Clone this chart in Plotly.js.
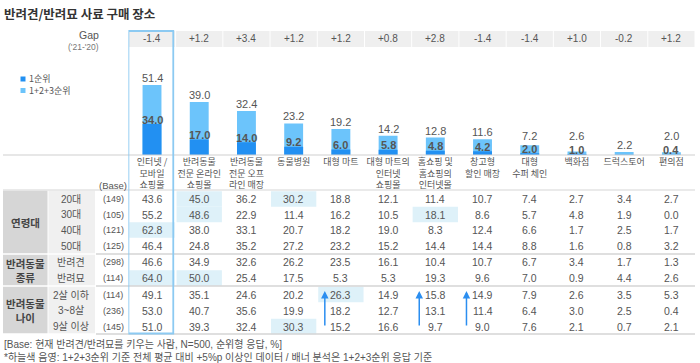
<!DOCTYPE html>
<html><head><meta charset="utf-8">
<script src="https://cdn.plot.ly/plotly-3.0.1.min.js"></script>
<style>html,body{margin:0;padding:0;background:#fff}#chart{width:700px;height:363px}</style>
</head><body><div id="chart"></div>
<script>
// ---- data ----
const categories = ["인터넷 /<br>모바일<br>쇼핑몰","반려동물<br>전문 온라인<br>쇼핑몰","반려동물<br>전문 오프<br>라인 매장","동물병원","대형 마트","대형 마트의<br>인터넷<br>쇼핑몰","홈쇼핑 및<br>홈쇼핑의<br>인터넷몰","창고형<br>할인 매장","대형<br>수퍼 체인","백화점","드럭스토어","편의점"];
const total123 = [51.4, 39.0, 32.4, 23.2, 19.2, 14.2, 12.8, 11.6, 7.2, 2.6, 2.2, 2.0];
const first1 = [34.0, 17.0, 14.0, 9.2, 6.0, 5.8, 4.8, 4.2, 2.0, 1.0, 0.4, 0.4];
const first1Labels = ["34.0","17.0","14.0","9.2","6.0","5.8","4.8","4.2","2.0","1.0","","0.4"];
const gapValues = ["-1.4","+1.2","+3.4","+1.2","+1.2","+0.8","+2.8","-1.4","-1.4","+1.0","-0.2","+1.2"];
const legendNames = ["1순위","1+2+3순위"];
const groupNames = ["연령대","반려동물<br>종류","반려동물<br>나이"];
const rowLabels = ["20대","30대","40대","50대","반려견","반려묘","2살 이하","3~8살","9살 이상"];
const rowBases = ["(149)","(105)","(121)","(125)","(298)","(114)","(114)","(236)","(145)"];
const rowAge20 = [43.6, 45.0, 36.2, 30.2, 18.8, 12.1, 11.4, 10.7, 7.4, 2.7, 3.4, 2.7];
const rowAge30 = [55.2, 48.6, 22.9, 11.4, 16.2, 10.5, 18.1, 8.6, 5.7, 4.8, 1.9, 0.0];
const rowAge40 = [62.8, 38.0, 33.1, 20.7, 18.2, 19.0, 8.3, 12.4, 6.6, 1.7, 2.5, 1.7];
const rowAge50 = [46.4, 24.8, 35.2, 27.2, 23.2, 15.2, 14.4, 14.4, 8.8, 1.6, 0.8, 3.2];
const rowDog = [46.6, 34.9, 32.6, 26.2, 23.5, 16.1, 10.4, 10.7, 6.7, 3.4, 1.7, 1.3];
const rowCat = [64.0, 50.0, 25.4, 17.5, 5.3, 5.3, 19.3, 9.6, 7.0, 0.9, 4.4, 2.6];
const rowPet2 = [49.1, 35.1, 24.6, 20.2, 26.3, 14.9, 15.8, 14.9, 7.9, 2.6, 3.5, 5.3];
const rowPet3to8 = [53.0, 40.7, 35.6, 19.9, 18.2, 12.7, 13.1, 11.4, 6.4, 3.0, 2.5, 0.4];
const rowPet9 = [51.0, 39.3, 32.4, 30.3, 15.2, 16.6, 9.7, 9.0, 7.6, 2.1, 0.7, 2.1];
const highlights = [[0,1],[0,3],[1,1],[1,6],[2,0],[5,0],[5,1],[6,4],[8,3]]; // [row, col]
const arrowCols = [4, 6, 7];
const footnote1 = "[Base: 현재 반려견/반려묘를 키우는 사람, N=500, 순위형 응답, %]";
const footnote2 = "*하늘색 음영: 1+2+3순위 기준 전체 평균 대비 +5%p 이상인 데이터 / 배너 분석은 1+2+3순위 응답 기준";

// ---- layout helpers ----
const W = 700, H = 363;
const Y = px => 1 - px / H;
const X = px => px / W;
const FONT = "Liberation Sans, Noto Sans CJK KR, sans-serif";
const KFONT = "Noto Sans CJK KR, Liberation Sans, sans-serif";
const TXT = "#555";
const DARK = "#2290f2", LIGHT = "#6cc4fb", HL = "#def1f9";
const rows = [rowAge20,rowAge30,rowAge40,rowAge50,rowDog,rowCat,rowPet2,rowPet3to8,rowPet9];
const rowY = [199, 214.5, 230, 246, 262, 278, 294.5, 310.5, 326.5];
const groupSpans = [[190,254],[254,286],[286,334]];
const BASE = 155, LSCALE = 1.36, DSCALE = 0.91, YMAX = 60;

const traces = [
  {type:"bar", name:legendNames[1], x:categories, y:total123, xaxis:"x", yaxis:"y", marker:{color:LIGHT}, width:0.4,
   hoverinfo:"skip", showlegend:false},
  {type:"bar", name:legendNames[0], x:categories, y:first1, xaxis:"x", yaxis:"y2", marker:{color:DARK}, width:0.4,
   hoverinfo:"skip", showlegend:false}
];

const shapes = [];
const ann = [];
const A = o => ann.push(Object.assign({showarrow:false, xanchor:"center", yanchor:"middle", borderpad:0}, o));

// value labels on bars
total123.forEach((v,i)=>{
  const floor = first1Labels[i] ? 9 : 0;
  A({xref:"x", yref:"y", x:i, y:Math.max(v, floor), yshift:7, text:v.toFixed(1), font:{family:FONT, size:11, color:TXT}});
});
first1.forEach((v,i)=>{
  if(!first1Labels[i]) return;
  A({xref:"x", yref:"y2", x:i, y:v, yshift:4.5, text:"<b>"+first1Labels[i]+"</b>", font:{family:FONT, size:11, color:TXT}});
});

// title
A({xref:"paper", yref:"paper", x:X(3), y:Y(13), xanchor:"left", text:"<b>반려견/반려묘 사료 구매 장소</b>", font:{family:KFONT, size:12.5, color:"#333"}});
// gap header
A({xref:"paper", yref:"paper", x:X(100), y:Y(35), xanchor:"right", text:"Gap", font:{family:FONT, size:10.5, color:TXT}});
A({xref:"paper", yref:"paper", x:X(100), y:Y(47), xanchor:"right", text:"('21-'20)", font:{family:FONT, size:8.5, color:"#777"}});
// gap cells
gapValues.forEach((g,i)=>{
  shapes.push({type:"rect", xref:"x", yref:"paper", x0:i-0.49, x1:i+0.49, y0:Y(47), y1:Y(31), fillcolor:"#efefef", line:{width:0}, layer:"below"});
  A({xref:"x", yref:"paper", x:i, y:Y(39), text:g, font:{family:FONT, size:10, color:TXT}});
});
// legend (manual)
[[DARK,79],[LIGHT,90.5]].forEach(([c,py])=>{
  shapes.push({type:"rect", xref:"paper", yref:"paper", x0:X(20.5), x1:X(25.5), y0:Y(py+2.5), y1:Y(py-2.5), fillcolor:c, line:{width:0}});
});
A({xref:"paper", yref:"paper", x:X(27.5), y:Y(84.8), xanchor:"left", align:"left", text:legendNames.join("<br>"), font:{family:KFONT, size:9, color:TXT}});
// baseline and table lines
shapes.push({type:"line", xref:"paper", yref:"paper", x0:X(3), x1:X(695), y0:Y(BASE), y1:Y(BASE), line:{color:"#cfcfcf", width:1.2}});
shapes.push({type:"line", xref:"paper", yref:"paper", x0:X(3), x1:X(695), y0:Y(190), y1:Y(190), line:{color:"#d5d5d5", width:1.2}});
[254,286,334].forEach(py=>shapes.push({type:"line", xref:"paper", yref:"paper", x0:X(96), x1:X(695), y0:Y(py), y1:Y(py), line:{color:"#d5d5d5", width:1.5}}));
// (Base)
A({xref:"paper", yref:"paper", x:X(113), y:Y(185), text:"(Base)", font:{family:FONT, size:9.5, color:TXT}});
// group cells
groupSpans.forEach(([a,b],g)=>{
  shapes.push({type:"rect", xref:"paper", yref:"paper", x0:X(3), x1:X(47.5), y0:Y(b-0.8), y1:Y(a+0.8), fillcolor:"#d6d6d6", line:{width:0}, layer:"below"});
  shapes.push({type:"rect", xref:"paper", yref:"paper", x0:X(48.5), x1:X(95), y0:Y(b-0.8), y1:Y(a+0.8), fillcolor:"#f0f0f0", line:{width:0}, layer:"below"});
  A({xref:"paper", yref:"paper", x:X(25.5), y:Y((a+b)/2), text:"<b>"+groupNames[g]+"</b>", font:{family:KFONT, size:10.5, color:"#444"}});
});
// highlights
highlights.forEach(([r,c])=>{
  shapes.push({type:"rect", xref:"x", yref:"paper", x0:c-0.48, x1:c+0.48, y0:Y(rowY[r]+7.8), y1:Y(rowY[r]-7.8), fillcolor:HL, line:{width:0}, layer:"below"});
});
// rows
rows.forEach((vals,r)=>{
  A({xref:"paper", yref:"paper", x:X(71), y:Y(rowY[r]), text:rowLabels[r], font:{family:FONT, size:10, color:TXT}});
  A({xref:"paper", yref:"paper", x:X(113), y:Y(rowY[r]), text:rowBases[r], font:{family:FONT, size:9, color:TXT}});
  vals.forEach((v,c)=>{
    A({xref:"x", yref:"paper", x:c, y:Y(rowY[r]), text:v.toFixed(1), font:{family:FONT, size:10.5, color:TXT}});
  });
});
// arrows
arrowCols.forEach(c=>{
  ann.push({xref:"x", yref:"paper", x:c-0.34, y:Y(291), ax:0, ay:36, text:"", showarrow:true,
    arrowhead:2, arrowsize:1, arrowwidth:1.5, arrowcolor:"#2b8ef0", standoff:0, startstandoff:0});
});
// highlight box on column 0
shapes.push({type:"rect", xref:"x", yref:"paper", x0:-0.5, x1:0.45, y0:Y(333.5), y1:Y(31), fillcolor:"rgba(0,0,0,0)", line:{color:"#8ccaf2", width:1.8}});
// footnotes
A({xref:"paper", yref:"paper", x:X(3), y:Y(344), xanchor:"left", text:footnote1, font:{family:FONT, size:10, color:TXT}});
A({xref:"paper", yref:"paper", x:X(3), y:Y(356.5), xanchor:"left", text:footnote2, font:{family:FONT, size:10, color:TXT}});

const layout = {
  width:W, height:H, margin:{l:0,r:0,t:0,b:0}, paper_bgcolor:"#fff", plot_bgcolor:"rgba(0,0,0,0)",
  barmode:"overlay", showlegend:false, font:{family:FONT, color:TXT},
  xaxis:{type:"category", range:[-0.5,11.5], domain:[128.4/W, 695/W], showgrid:false, zeroline:false, showline:false, ticks:"",
    tickfont:{family:KFONT, size:9, color:TXT}, fixedrange:true, automargin:false},
  yaxis:{range:[0,YMAX], domain:[Y(BASE), Y(BASE - YMAX*LSCALE)], visible:false, fixedrange:true},
  yaxis2:{range:[0,YMAX], domain:[Y(BASE), Y(BASE - YMAX*DSCALE)], anchor:"x", visible:false, fixedrange:true},
  shapes:shapes, annotations:ann
};
Plotly.newPlot("chart", traces, layout, {displayModeBar:false, staticPlot:true});
</script></body></html>
